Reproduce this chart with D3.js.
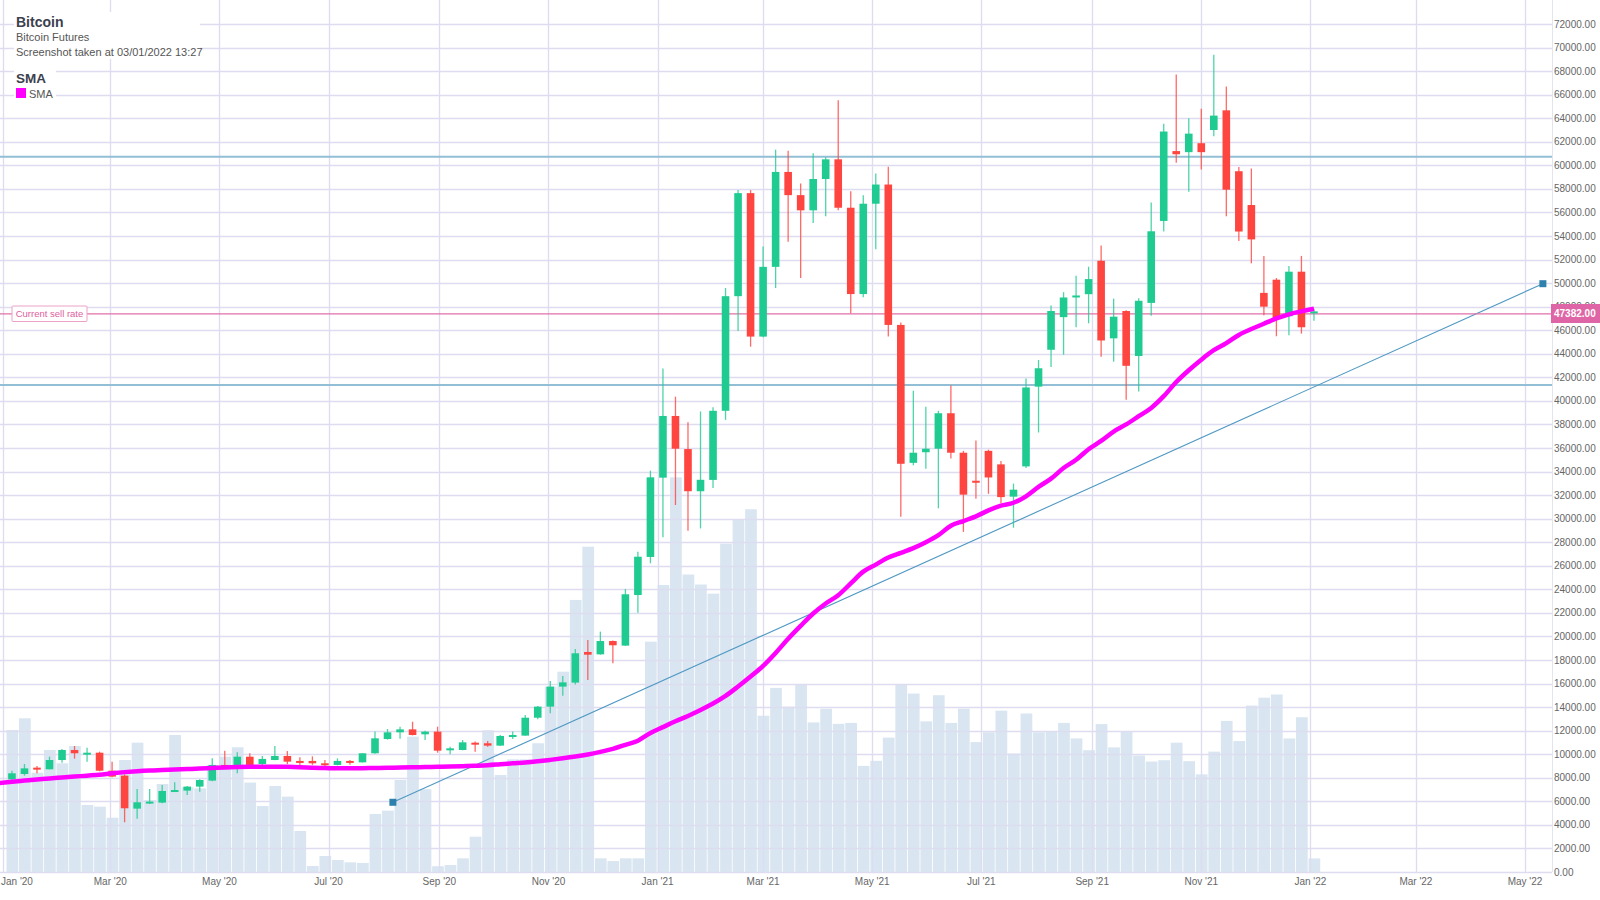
<!DOCTYPE html>
<html><head><meta charset="utf-8">
<script src="https://cdn.jsdelivr.net/npm/d3@7"></script>
<style>body{margin:0;background:#fff}svg{display:block;font-family:"Liberation Sans",Arial,sans-serif}</style>
</head><body><svg id="c" width="1600" height="900"></svg>
<script>
// ---- data ----
const weeks = ["2020-01-06","2020-01-13","2020-01-20","2020-01-27","2020-02-03","2020-02-10","2020-02-17","2020-02-24","2020-03-02","2020-03-09","2020-03-16","2020-03-23","2020-03-30","2020-04-06","2020-04-13","2020-04-20","2020-04-27","2020-05-04","2020-05-11","2020-05-18","2020-05-25","2020-06-01","2020-06-08","2020-06-15","2020-06-22","2020-06-29","2020-07-06","2020-07-13","2020-07-20","2020-07-27","2020-08-03","2020-08-10","2020-08-17","2020-08-24","2020-08-31","2020-09-07","2020-09-14","2020-09-21","2020-09-28","2020-10-05","2020-10-12","2020-10-19","2020-10-26","2020-11-02","2020-11-09","2020-11-16","2020-11-23","2020-11-30","2020-12-07","2020-12-14","2020-12-21","2020-12-28","2021-01-04","2021-01-11","2021-01-18","2021-01-25","2021-02-01","2021-02-08","2021-02-15","2021-02-22","2021-03-01","2021-03-08","2021-03-15","2021-03-22","2021-03-29","2021-04-05","2021-04-12","2021-04-19","2021-04-26","2021-05-03","2021-05-10","2021-05-17","2021-05-24","2021-05-31","2021-06-07","2021-06-14","2021-06-21","2021-06-28","2021-07-05","2021-07-12","2021-07-19","2021-07-26","2021-08-02","2021-08-09","2021-08-16","2021-08-23","2021-08-30","2021-09-06","2021-09-13","2021-09-20","2021-09-27","2021-10-04","2021-10-11","2021-10-18","2021-10-25","2021-11-01","2021-11-08","2021-11-15","2021-11-22","2021-11-29","2021-12-06","2021-12-13","2021-12-20","2021-12-27","2022-01-03"];
const open  = [7870,8320,8860,8720,9510,10360,10080,10130,8600,8180,5380,5900,5890,6880,6910,7250,7760,9090,9090,9790,9170,9510,9850,9430,9430,9230,9090,9430,9310,10080,11290,11860,12110,11690,11920,10390,10360,10980,10930,10730,11490,11580,13100,14040,15740,16080,18680,18480,19610,19220,23520,26750,33480,38720,35910,32330,33290,39160,48890,57640,45460,51380,59440,57470,56180,58840,60510,56400,49070,56740,58370,46450,34740,35640,35940,38950,35600,33220,35760,34610,31870,34440,41210,44340,47110,48890,49060,51900,45310,47630,43810,48320,55280,61210,61120,61880,63000,64670,59500,56630,49170,50290,47190,50970,47450];
const high  = [8600,9170,9000,9790,10440,10700,10560,10220,9370,8290,7050,7050,7390,7610,7300,7870,9650,10300,10160,10080,9850,10700,10270,9740,9820,9510,9650,9500,10080,11920,12140,12340,12760,12000,12340,10640,11210,11070,11120,11630,11920,13330,14100,16220,16640,18930,19700,20410,19650,24030,27200,34080,42760,40360,38180,39100,39460,49580,57900,57900,53100,61330,61240,58460,61030,60690,65530,57810,57470,59310,59870,46660,40870,39500,39160,41300,35760,36630,35860,34890,32980,41900,43470,48090,49230,50620,51390,53190,48680,47700,48710,56850,63540,67720,63990,64800,69380,66690,59860,59730,52310,50430,51460,52310,47830];
const low   = [7810,8180,8380,8720,9280,9620,9370,8550,8040,4220,4530,5780,5830,6850,6540,6820,7700,8800,8380,9000,8950,9480,9170,9090,9100,9000,9050,9100,9300,10050,11240,11320,11600,11210,10130,9990,10330,10220,10640,10700,11290,11560,12960,13470,14970,15930,16300,18450,17720,19200,22020,26210,28420,31160,28980,29170,32600,38390,45930,44600,45400,49580,53520,50440,55110,55670,56180,47440,48810,52880,45460,30160,34530,34230,30880,35100,28880,31690,32110,31310,29230,34300,37320,42880,43920,46250,46590,43750,43330,40100,40790,47220,54380,60220,57750,59640,62470,55680,53570,51680,47280,45490,45580,45710,46810];
const close = [8380,8800,8720,9510,10360,10080,10130,8600,8100,5410,5920,5980,6880,6960,7250,7810,9090,9000,9790,9090,9600,9850,9370,9340,9230,9140,9430,9310,10080,11350,11860,12110,11630,11920,10300,10500,11010,10900,10730,11550,11630,13100,14040,15740,16100,18570,18450,19610,19250,23580,26770,33510,38720,35940,32330,33300,39160,48890,57640,45460,51380,59440,57470,56180,58840,60510,56400,49070,56740,58370,46450,34660,35600,35940,38950,35600,32040,33080,33500,31830,32460,41140,42770,47630,48780,48950,50340,45130,47150,42980,48500,54400,62870,60940,62690,61120,64220,57930,54380,53710,48000,46970,50970,46250,47600];
const volume = [12060,13050,8430,10360,9230,10700,5690,5550,4610,9510,10980,6110,7470,11630,7200,7100,9090,9790,10590,7590,5600,7300,6400,3480,510,1360,1020,820,770,4930,5210,7810,11490,7030,490,590,1160,3000,12030,8240,9570,9570,10930,15740,17010,23100,27620,1160,930,1160,1160,19560,24370,33510,25260,24410,23630,27880,29940,30800,13270,15630,14040,15880,12700,13860,12580,12660,9010,9440,11410,15920,15150,12790,15010,12660,13870,11030,11860,13700,10060,13460,11860,11970,12660,11340,10340,12560,10580,11970,9890,9380,9490,10980,9410,8290,10220,12830,11120,14130,14800,15070,11340,13140,1150];
// SMA (first value is the week before the first candle)
const smaWeeks = ["2019-12-30"].concat(weeks);
const sma = [7560,7670,7760,7850,7940,8020,8100,8180,8260,8380,8480,8560,8620,8660,8700,8740,8780,8830,8880,8910,8930,8944,8944,8930,8900,8860,8830,8800,8800,8810,8830,8850,8870,8890,8910,8930,8950,8980,9020,9070,9150,9230,9300,9400,9520,9650,9800,9980,10200,10450,10800,11150,11800,12300,12800,13250,13750,14300,14950,15750,16600,17500,18600,19800,20900,21950,22800,23500,24500,25500,26100,26700,27100,27500,28000,28600,29400,29800,30200,30700,31100,31350,31900,32700,33400,34300,35000,35900,36600,37400,38000,38700,39400,40400,41600,42600,43500,44300,44900,45600,46100,46550,47000,47350,47600,47820];
const trendDates = ["2020-08-06","2022-05-11"];
const trendValues = [5920, 49950];
const hLevels = [60730, 41350];
const sellRate = 47382;
const titleLines = ["Bitcoin","Bitcoin Futures","Screenshot taken at 03/01/2022 13:27"];
const legendTitle = "SMA", legendItem = "SMA", sellLabel = "Current sell rate";

// ---- chart ----
const parse = d3.utcParse("%Y-%m-%d");
const svg = d3.select("#c");
const W = 1600, plotRight = 1552, plotBottom = 872;
const x = d3.scaleUtc().domain([parse("2020-01-01"), parse("2022-05-01")]).range([3, 1525]);
const y = d3.scaleLinear().domain([0, 72000]).range([plotBottom, 24]);
const yVol = d3.scaleLinear().domain([0, 72000]).range([plotBottom, 24]);
const dayW = x(parse("2020-01-08")) - x(parse("2020-01-01"));
const green = "#20cb91", red = "#fe4540";
const data = weeks.map((w,i)=>({d:parse(w),o:open[i],h:high[i],l:low[i],c:close[i],v:volume[i]}));

// volume
svg.append("g").selectAll("rect").data(data).join("rect")
  .attr("x", d=>x(d.d)-dayW/2+0.8).attr("width", dayW-0.8)
  .attr("y", d=>yVol(d.v)).attr("height", d=>plotBottom-yVol(d.v))
  .attr("fill", "#d9e6f1");

// grid
const grid = svg.append("g");
const yt = y.ticks(36);
grid.selectAll("line.h").data(yt).join("line").attr("class","h")
  .attr("x1",0).attr("x2",plotRight).attr("y1",d=>Math.round(y(d))+0.5).attr("y2",d=>Math.round(y(d))+0.5)
  .attr("stroke","#dedcf0").attr("stroke-width",1.3);
const xEnd = x.invert(plotRight);
const xt = d3.utcMonth.every(2).range(parse("2020-01-01"), xEnd);
grid.selectAll("line.v").data(xt).join("line").attr("class","v")
  .attr("x1",d=>Math.round(x(d))+0.5).attr("x2",d=>Math.round(x(d))+0.5).attr("y1",0).attr("y2",plotBottom)
  .attr("stroke","#dedcf0").attr("stroke-width",1.3);
grid.append("line").attr("x1",plotRight+0.5).attr("x2",plotRight+0.5).attr("y1",0).attr("y2",plotBottom).attr("stroke","#e4e4ec");

// axis labels
const fmtY = d3.format(".2f");
svg.append("g").selectAll("text").data(yt).join("text")
  .attr("x",1554).attr("y",d=>y(d)).attr("dy","0.35em")
  .attr("font-size",10).attr("fill","#666").text(d=>fmtY(d));
const fmtX = d3.utcFormat("%b '%y");
svg.append("g").selectAll("text").data(xt).join("text")
  .attr("x",(d,i)=>i===0 ? 1 : x(d)).attr("y",885)
  .attr("text-anchor",(d,i)=>i===0 ? "start" : "middle").attr("font-size",10).attr("fill","#666").text(d=>fmtX(d));

// horizontal levels
svg.append("g").selectAll("line").data(hLevels).join("line")
  .attr("x1",0).attr("x2",plotRight).attr("y1",d=>y(d)).attr("y2",d=>y(d))
  .attr("stroke","#92bfd6").attr("stroke-width",2);

// trend line
const tp = trendDates.map((t,i)=>[x(parse(t)), y(trendValues[i])]);
svg.append("line").attr("x1",tp[0][0]).attr("y1",tp[0][1]).attr("x2",tp[1][0]).attr("y2",tp[1][1])
  .attr("stroke","#4f98c2").attr("stroke-width",1.1);
svg.append("g").selectAll("rect").data(tp).join("rect")
  .attr("x",d=>d[0]-3.5).attr("y",d=>d[1]-3.5).attr("width",7).attr("height",7).attr("fill","#2e81ad");

// current sell rate
svg.append("line").attr("x1",0).attr("x2",plotRight).attr("y1",y(sellRate)).attr("y2",y(sellRate))
  .attr("stroke","#e070a8").attr("stroke-width",1.2);

// candles
const cg = svg.append("g");
const bw = 7.6;
cg.selectAll("line").data(data).join("line")
  .attr("x1",d=>x(d.d)).attr("x2",d=>x(d.d)).attr("y1",d=>y(d.h)).attr("y2",d=>y(d.l))
  .attr("stroke",d=>d.c>=d.o?green:red).attr("stroke-width",1.3).attr("stroke-opacity",0.8);
cg.selectAll("rect").data(data).join("rect")
  .attr("x",d=>x(d.d)-bw/2).attr("width",bw)
  .attr("y",d=>y(Math.max(d.o,d.c))).attr("height",d=>Math.max(2,Math.abs(y(d.o)-y(d.c))))
  .attr("fill",d=>d.c>=d.o?green:red);

// SMA
const smaData = smaWeeks.map((w,i)=>[parse(w), sma[i]]);
svg.append("path").datum(smaData)
  .attr("d", d3.line().x(d=>x(d[0])).y(d=>y(d[1])).curve(d3.curveMonotoneX))
  .attr("fill","none").attr("stroke","#ff00ff").attr("stroke-width",4.5).attr("stroke-linejoin","round");

// sell rate labels
const sl = svg.append("g");
sl.append("rect").attr("x",12).attr("y",306).attr("width",75).attr("height",15.5).attr("fill","#fff").attr("stroke","#eca1c6").attr("rx",1);
sl.append("text").attr("x",49.5).attr("y",y(sellRate)).attr("dy","0.35em").attr("text-anchor","middle").attr("font-size",9.5).attr("fill","#e0609e").text(sellLabel);
sl.append("rect").attr("x",1551).attr("y",304).attr("width",49).attr("height",19).attr("fill","#df66a6");
sl.append("text").attr("x",1554).attr("y",y(sellRate)).attr("dy","0.35em").attr("font-size",10).attr("fill","#fff").attr("font-weight","bold").text(fmtY(sellRate));

// title block
const tg = svg.append("g");
tg.append("rect").attr("x",14).attr("y",12).attr("width",186).attr("height",47).attr("fill","#fff");
tg.append("rect").attr("x",14).attr("y",69).attr("width",42).attr("height",33).attr("fill","#fff");
tg.append("text").attr("x",16).attr("y",26.5).attr("font-size",14).attr("font-weight","bold").attr("fill","#3b414d").text(titleLines[0]);
tg.append("text").attr("x",16).attr("y",40.5).attr("font-size",11).attr("fill","#555").text(titleLines[1]);
tg.append("text").attr("x",16).attr("y",55.5).attr("font-size",11).attr("fill","#555").text(titleLines[2]);
tg.append("text").attr("x",16).attr("y",83).attr("font-size",13.5).attr("font-weight","bold").attr("fill","#3b414d").text(legendTitle);
tg.append("rect").attr("x",16).attr("y",88).attr("width",10).attr("height",10).attr("fill","#ff00ff");
tg.append("text").attr("x",29).attr("y",97.5).attr("font-size",11).attr("fill","#555").text(legendItem);
</script></body></html>
